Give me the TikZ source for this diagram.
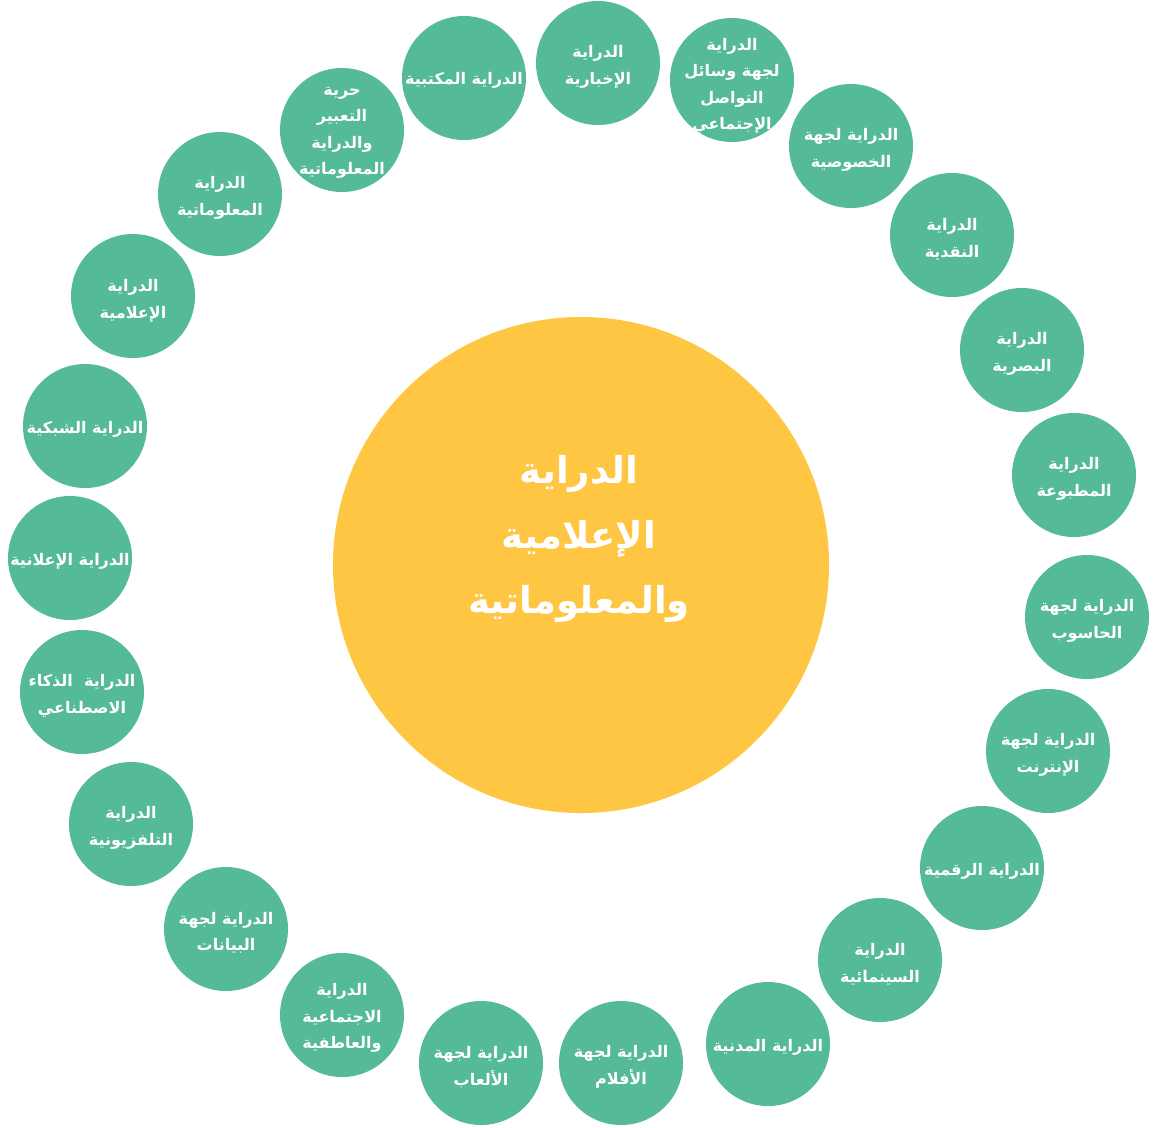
\documentclass[tikz,border=0pt]{standalone}
\usepackage{fontspec}
\TeXXeTstate=1
\newfontfamily\arabicfont[Script=Arabic]{DejaVu Sans}
\newcommand{\rl}[1]{\beginR #1\endR}
\definecolor{dotgreen}{HTML}{55BA96}
\definecolor{hubyellow}{HTML}{FEC643}
\tikzset{
  dot/.style={circle, fill=dotgreen, draw=none, minimum size=124pt, inner sep=0pt},
  lbl/.style={text=white, align=center, inner sep=0pt, font=\arabicfont\bfseries\fontsize{16}{26.5}\selectfont},
  hub/.style={circle, fill=hubyellow, draw=none, minimum size=496pt, inner sep=0pt},
  hublbl/.style={text=white, align=center, inner sep=0pt, font=\arabicfont\bfseries\fontsize{37}{65}\selectfont}
}
\begin{document}
\begin{tikzpicture}[x=1pt,y=-1pt]
\useasboundingbox (0,0) rectangle (1153,1127);
% hub
\node[hub] (hub) at (581,565) {};
\node[hublbl] (hubt) at ([xshift=-2pt,yshift=26pt]hub.center) {\rl{الدراية}\\\rl{الإعلامية}\\\rl{والمعلوماتية}};
% ring
\node[dot] (c1) at (598,63) {};
\node[lbl] (t1) at ([yshift=-4pt]c1.center) {\rl{الدراية}\\\rl{الإخبارية}};
\node[dot] (c2) at (732,80) {};
\begin{scope}
\clip (732,80) circle (62pt);
\node[lbl] (t2) at ([yshift=-6pt]c2.center) {\rl{الدراية}\\\rl{لجهة وسائل}\\\rl{التواصل}\\\rl{الإجتماعي}};
\end{scope}
\node[dot] (c3) at (851,146) {};
\node[lbl] (t3) at ([yshift=-4pt]c3.center) {\rl{الدراية لجهة}\\\rl{الخصوصية}};
\node[dot] (c4) at (952,235) {};
\node[lbl] (t4) at ([yshift=-4pt]c4.center) {\rl{الدراية}\\\rl{النقدية}};
\node[dot] (c5) at (1022,350) {};
\node[lbl] (t5) at ([yshift=-4pt]c5.center) {\rl{الدراية}\\\rl{البصرية}};
\node[dot] (c6) at (1074,475) {};
\node[lbl] (t6) at ([yshift=-4pt]c6.center) {\rl{الدراية}\\\rl{المطبوعة}};
\node[dot] (c7) at (1087,617) {};
\node[lbl] (t7) at ([yshift=-4pt]c7.center) {\rl{الدراية لجهة}\\\rl{الحاسوب}};
\node[dot] (c8) at (1048,751) {};
\node[lbl] (t8) at ([yshift=-4pt]c8.center) {\rl{الدراية لجهة}\\\rl{الإنترنت}};
\node[dot] (c9) at (982,868) {};
\node[lbl] (t9) at ([yshift=-3pt]c9.center) {\rl{الدراية الرقمية}};
\node[dot] (c10) at (880,960) {};
\node[lbl] (t10) at ([yshift=-4pt]c10.center) {\rl{الدراية}\\\rl{السينمائية}};
\node[dot] (c11) at (768,1044) {};
\node[lbl] (t11) at ([yshift=-3pt]c11.center) {\rl{الدراية المدنية}};
\node[dot] (c12) at (621,1063) {};
\node[lbl] (t12) at ([yshift=-4pt]c12.center) {\rl{الدراية لجهة}\\\rl{الأفلام}};
\node[dot] (c13) at (481,1063) {};
\node[lbl] (t13) at ([yshift=-4pt]c13.center) {\rl{الدراية لجهة}\\\rl{الألعاب}};
\node[dot] (c14) at (342,1015) {};
\node[lbl] (t14) at ([yshift=-3pt]c14.center) {\rl{الدراية}\\\rl{الاجتماعية}\\\rl{والعاطفية}};
\node[dot] (c15) at (226,929) {};
\node[lbl] (t15) at ([yshift=-4pt]c15.center) {\rl{الدراية لجهة}\\\rl{البيانات}};
\node[dot] (c16) at (131,824) {};
\node[lbl] (t16) at ([yshift=-4pt]c16.center) {\rl{الدراية}\\\rl{التلفزيونية}};
\node[dot] (c17) at (82,692) {};
\node[lbl] (t17) at ([yshift=-4pt]c17.center) {\rl{الدراية\ \ الذكاء}\\\rl{الاصطناعي}};
\node[dot] (c18) at (70,558) {};
\node[lbl] (t18) at ([yshift=-3pt]c18.center) {\rl{الدراية الإعلانية}};
\node[dot] (c19) at (85,426) {};
\node[lbl] (t19) at ([yshift=-3pt]c19.center) {\rl{الدراية الشبكية}};
\node[dot] (c20) at (133,296) {};
\node[lbl] (t20) at ([yshift=-5pt]c20.center) {\rl{الدراية}\\\rl{الإعلامية}};
\node[dot] (c21) at (220,194) {};
\node[lbl] (t21) at ([yshift=-4pt]c21.center) {\rl{الدراية}\\\rl{المعلوماتية}};
\node[dot] (c22) at (342,130) {};
\node[lbl] (t22) at ([yshift=-3pt]c22.center) {\rl{حرية}\\\rl{التعبير}\\\rl{والدراية}\\\rl{المعلوماتية}};
\node[dot] (c23) at (464,78) {};
\node[lbl] (t23) at ([yshift=-2pt]c23.center) {\rl{الدراية المكتبية}};
\end{tikzpicture}
\end{document}
